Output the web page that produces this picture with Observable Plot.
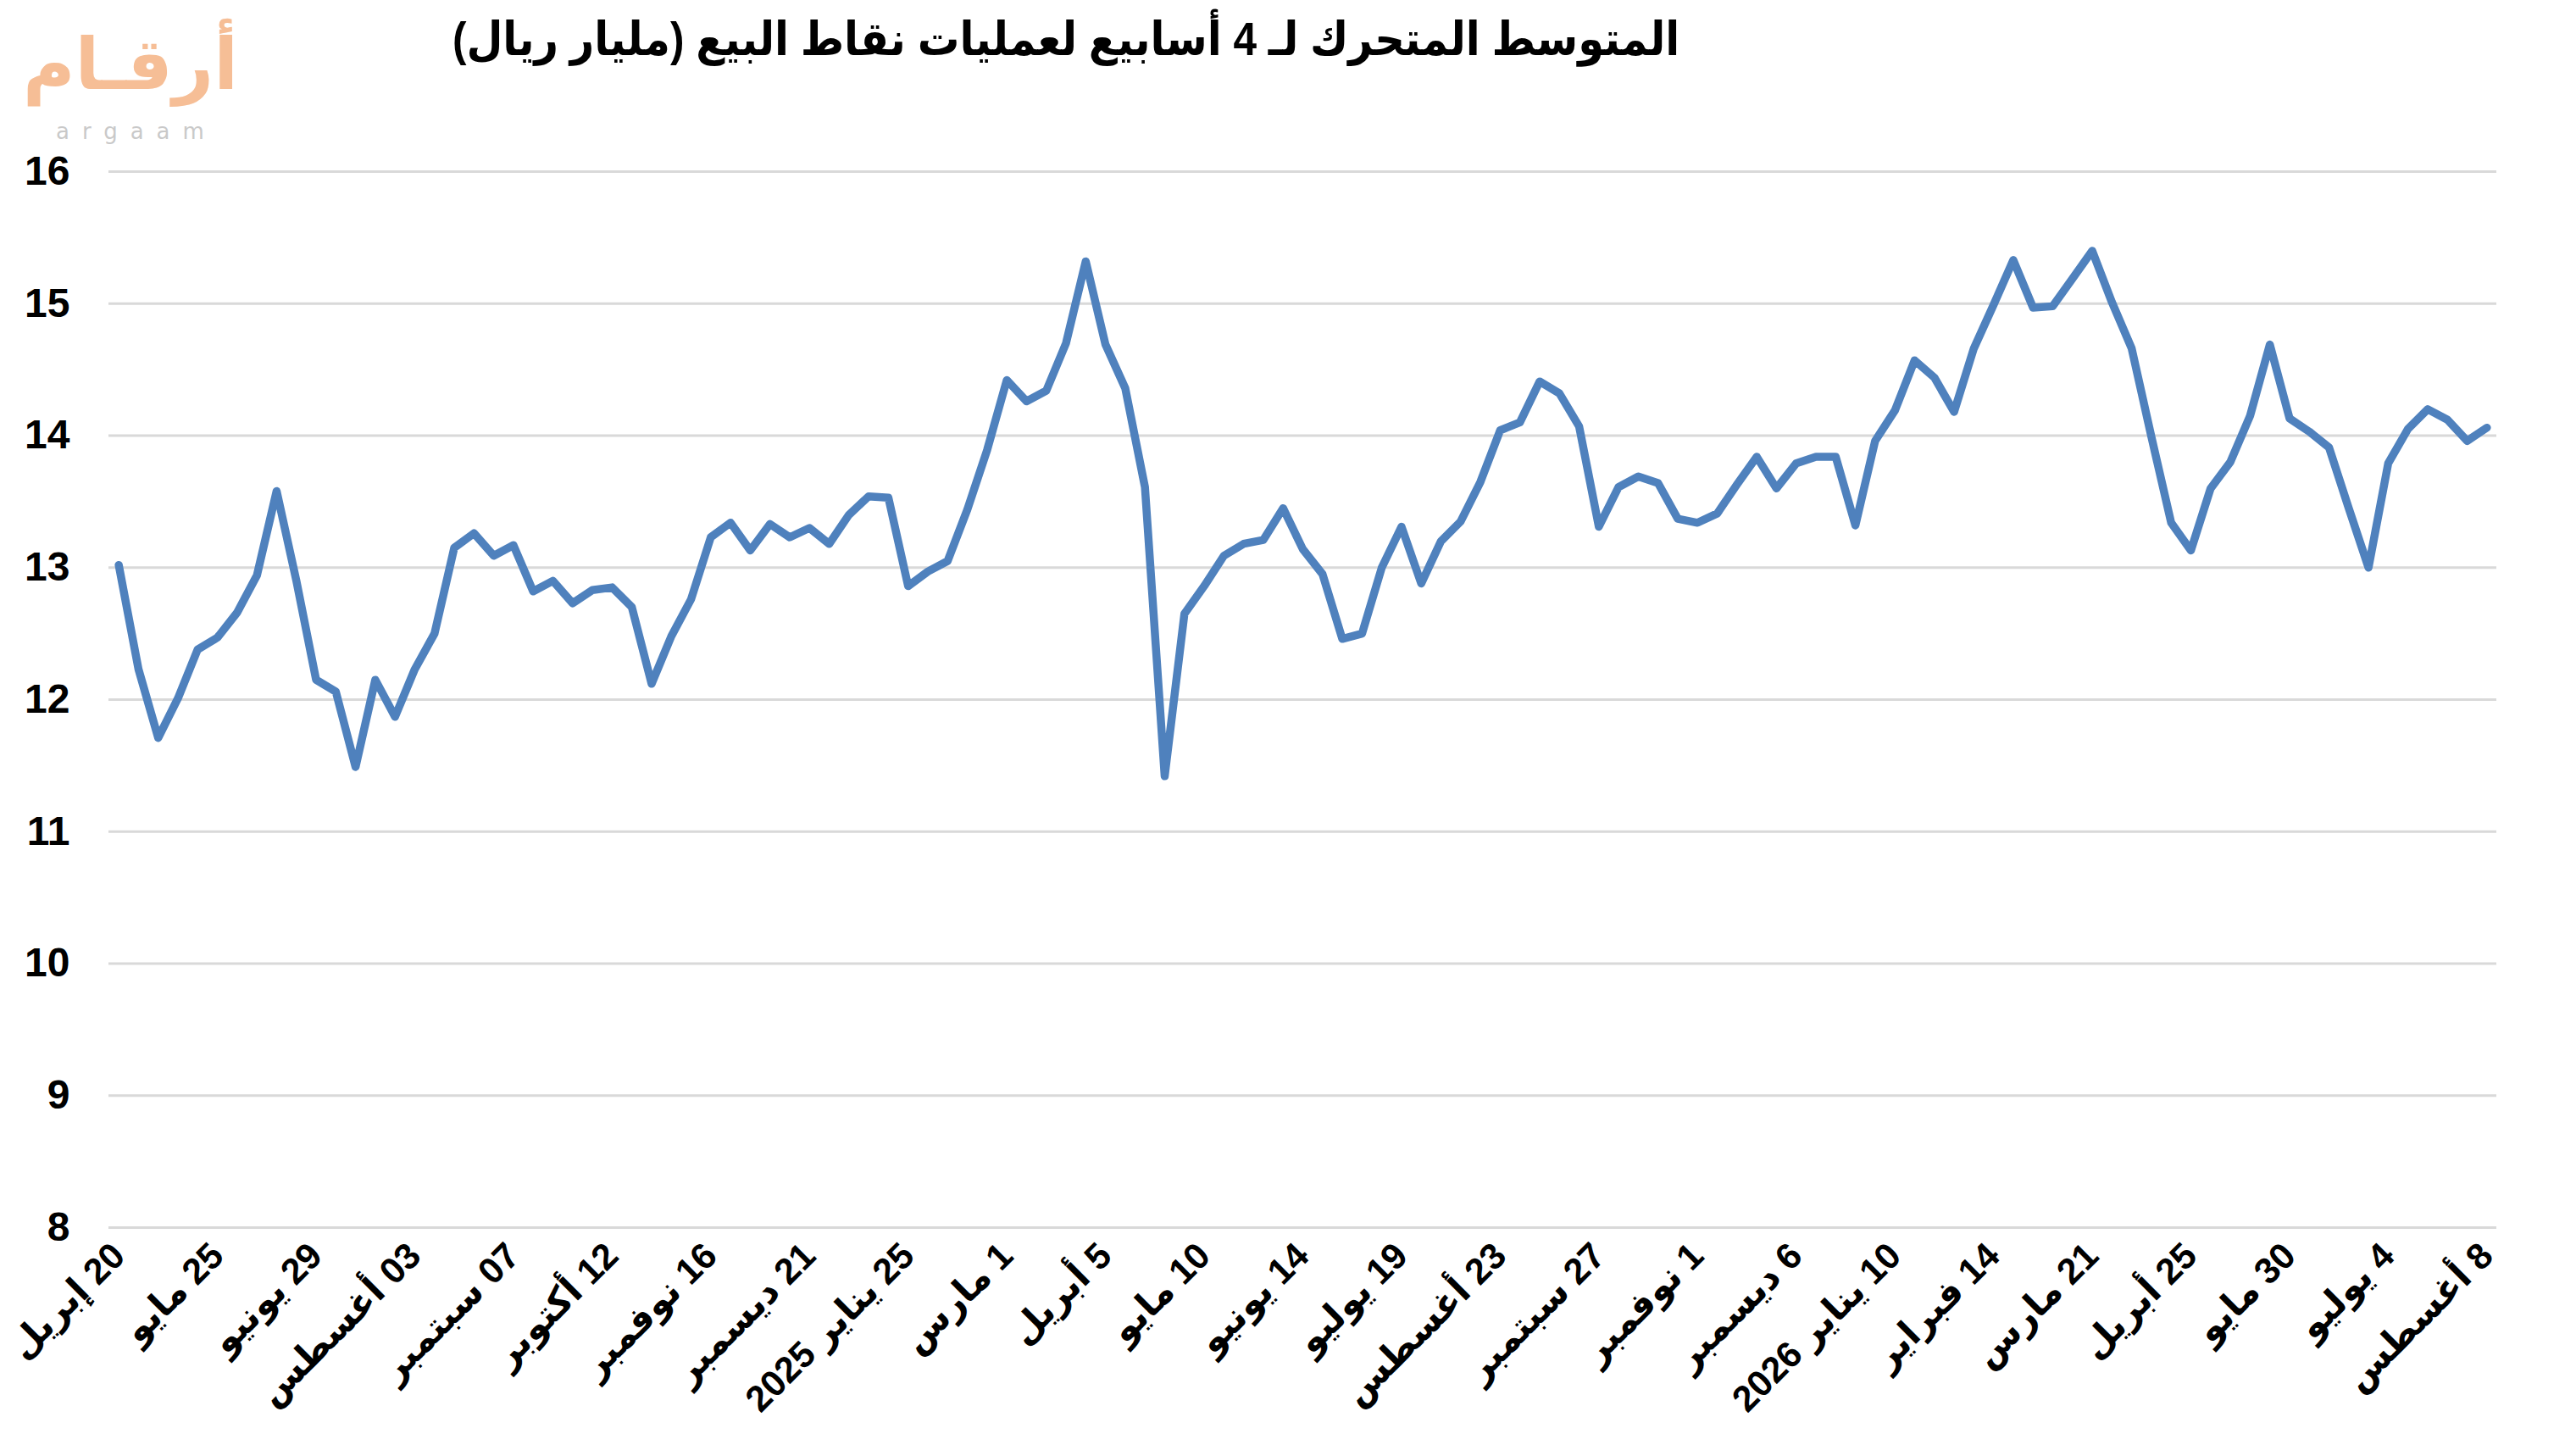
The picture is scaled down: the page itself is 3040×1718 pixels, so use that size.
<!DOCTYPE html>
<html>
<head>
<meta charset="utf-8">
<script src="https://cdn.jsdelivr.net/npm/d3@7"></script>
<script src="https://cdn.jsdelivr.net/npm/@observablehq/plot@0.6"></script>
<style>
  body { margin: 0; background: #fff; }
  #wrap { position: relative; width: 3040px; height: 1718px; background: #fff;
          font-family: "Liberation Sans", "DejaVu Sans", sans-serif; }
  #title { position: absolute; right: 1058px; top: 14px; direction: rtl; white-space: nowrap;
           font-weight: bold; font-size: 55px; color: #000; transform: scaleX(0.9); transform-origin: right center; }
  #logo { position: absolute; left: 36px; top: 14px; width: 245px; height: 160px; }
  #logo .ar { position: absolute; left: 0; top: 0; width: 245px; height: 124px; text-align: center; direction: rtl;
              font-family: "DejaVu Sans", sans-serif; font-weight: bold; font-size: 84px; color: #F6BE96; line-height: 124px; }
  #logo .en { position: absolute; left: 30px; top: 126px; font-family: "DejaVu Sans", sans-serif; line-height: 30px;
              font-size: 26px; color: #C9C9C9; letter-spacing: 15px; }
  #chart { position: absolute; left: 0; top: 0; }
</style>
</head>
<body>
<div id="wrap">
  <div id="chart"></div>
  <div id="logo"><div class="ar">أرقـام</div><div class="en">argaam</div></div>
  <div id="title"></div>
</div>
<script>
const titleText = "المتوسط المتحرك لـ 4 أسابيع لعمليات نقاط البيع (مليار ريال)";

const xLabels = ["20 إبريل","25 مايو","29 يونيو","03 أغسطس","07 سبتمبر","12 أكتوبر","16 نوفمبر",
  "21 ديسمبر","25 يناير 2025","1 مارس","5 أبريل","10 مايو","14 يونيو","19 يوليو","23 أغسطس",
  "27 سبتمبر","1 نوفمبر","6 ديسمبر","10 يناير 2026","14 فبراير","21 مارس","25 أبريل","30 مايو",
  "4 يوليو","8 أغسطس"];

const yTicks = [8, 9, 10, 11, 12, 13, 14, 15, 16];

// weekly 4-week moving average (billion riyals)
const values = [
  13.02, 12.23, 11.71, 12.01, 12.38, 12.47, 12.66, 12.94, 13.58, 12.90,
  12.15, 12.06, 11.49, 12.15, 11.87, 12.23, 12.50, 13.15, 13.26, 13.09,
  13.17, 12.82, 12.90, 12.73, 12.83, 12.85, 12.70, 12.12, 12.48, 12.76,
  13.23, 13.34, 13.13, 13.33, 13.23, 13.30, 13.18, 13.40, 13.54, 13.53,
  12.86, 12.97, 13.05, 13.44, 13.89, 14.42, 14.26, 14.34, 14.70, 15.32,
  14.69, 14.36, 13.61, 11.42, 12.65, 12.86, 13.09, 13.18, 13.21, 13.45,
  13.14, 12.95, 12.46, 12.50, 13.00, 13.31, 12.88, 13.20, 13.35, 13.65,
  14.04, 14.10, 14.41, 14.32, 14.07, 13.31, 13.61, 13.69, 13.64, 13.37,
  13.34, 13.41, 13.63, 13.84, 13.60, 13.79, 13.84, 13.84, 13.32, 13.96,
  14.19, 14.57, 14.44, 14.18, 14.66, 14.99, 15.33, 14.97, 14.98, 15.19,
  15.40, 15.01, 14.66, 13.99, 13.34, 13.13, 13.60, 13.80, 14.15, 14.69,
  14.13, 14.03, 13.91, 13.45, 13.00, 13.79, 14.05, 14.20, 14.12, 13.96,
  14.06
];

const labelStep = 5;
const xTickPos = xLabels.map((_, i) => i * labelStep);

document.getElementById("title").textContent = titleText;

const chart = Plot.plot({
  width: 3040,
  height: 1718,
  marginTop: 202,
  marginBottom: 270,
  marginLeft: 128,
  marginRight: 94,
  style: { fontFamily: '"Liberation Sans", "DejaVu Sans", sans-serif', color: "#000", background: "transparent" },
  x: { domain: [-0.5, values.length - 0.5] },
  y: { domain: [8, 16] },
  marks: [
    Plot.gridY(yTicks, { stroke: "#D9D9D9", strokeOpacity: 1, strokeWidth: 3 }),
    Plot.axisY(yTicks, { tickSize: 0, tickPadding: 46, fontSize: 48, fontWeight: "bold", label: null, tickFormat: d => String(d) }),
    Plot.axisX(xTickPos, {
      tickSize: 0, tickPadding: 26, tickRotate: -45, fontSize: 43, fontWeight: "bold", label: null,
      tickFormat: d => "\u202B" + xLabels[d / labelStep] + "\u202C"
    }),
    Plot.line(values, {
      x: (d, i) => i, y: d => d,
      stroke: "#4F81BD", strokeWidth: 9.5, strokeLinejoin: "round", strokeLinecap: "round"
    })
  ]
});
document.getElementById("chart").appendChild(chart);
</script>
</body>
</html>
